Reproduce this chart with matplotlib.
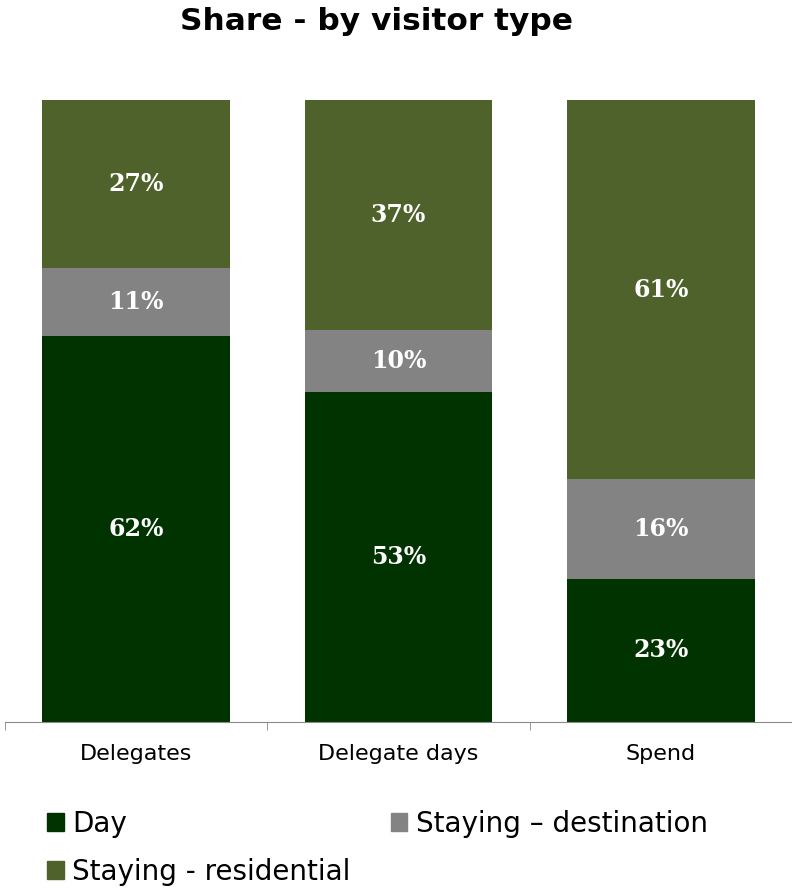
import matplotlib.pyplot as plt
from matplotlib.patches import Patch

categories = ["Delegates", "Delegate days", "Spend"]
day = [62, 53, 23]
staying_destination = [11, 10, 16]
staying_residential = [27, 37, 61]

series = [
    ("Day", day, "#013301"),
    ("Staying \u2013 destination", staying_destination, "#838383"),
    ("Staying - residential", staying_residential, "#4f622b"),
]

fig = plt.figure(figsize=(7.92, 8.88), dpi=100)
ax = fig.add_axes([5 / 792, 1 - 722 / 888, 787 / 792, 622 / 888])

x = range(len(categories))
bottom = [0] * len(categories)
for name, vals, color in series:
    ax.bar(x, vals, bottom=bottom, width=0.715, color=color, label=name)
    for i, v in enumerate(vals):
        ax.text(i, bottom[i] + v / 2, f"{v}%", ha="center", va="center",
                color="white", fontsize=17, fontweight="bold", family="DejaVu Serif")
    bottom = [b + v for b, v in zip(bottom, vals)]

ax.set_xlim(-0.5, 2.5)
ax.set_ylim(0, 100)
ax.set_yticks([])
for side in ("left", "right", "top"):
    ax.spines[side].set_visible(False)
ax.spines["bottom"].set_color("#8a8a8a")

ax.set_xticks(list(x))
ax.set_xticklabels(categories, fontsize=16)
ax.tick_params(axis="x", which="major", length=0, pad=16)
ax.set_xticks([-0.5, 0.5, 1.5, 2.5], minor=True)
ax.tick_params(axis="x", which="minor", length=6, color="#8a8a8a")

fig.text(377 / 792, 1 - 21 / 888, "Share - by visitor type", ha="center", va="center",
         fontsize=22.5, fontweight="bold")

handles = [Patch(color=c) for _, _, c in series]
labels = [n for n, _, _ in series]
order = [0, 2, 1]
fig.legend([handles[i] for i in order], [labels[i] for i in order],
           ncol=2, loc="upper left", bbox_to_anchor=(22 / 792, 1 - 785 / 888),
           frameon=False, fontsize=20, handlelength=0.6, handleheight=0.6,
           handletextpad=0.3, columnspacing=1.45, labelspacing=0.72)

fig.savefig("out.png", dpi=100)
